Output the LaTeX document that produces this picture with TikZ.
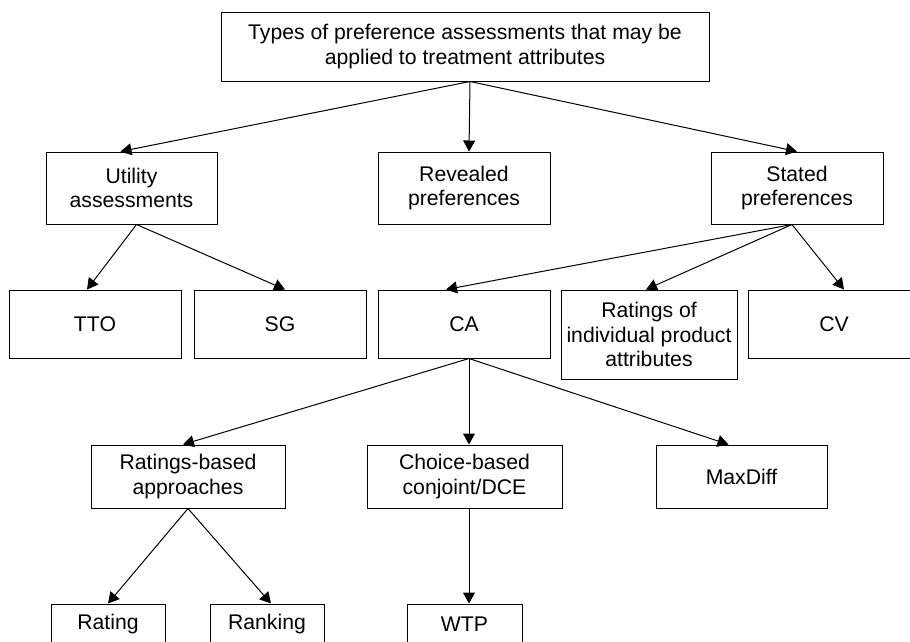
\documentclass[tikz,border=0pt]{standalone}
\usepackage{fontspec}
\setmainfont{Liberation Sans}
\usetikzlibrary{arrows.meta, positioning}

\begin{document}
\begin{tikzpicture}[
    x=1pt, y=-1pt,
    pbox/.style={rectangle, draw=black, line width=1pt, fill=white, minimum height=68pt, align=center, inner sep=2pt, font=\fontsize{21.2}{24.4}\selectfont, text=black},
    arr/.style={-{Triangle[length=11pt, width=12pt]}, line width=1pt, black}
  ]
  \useasboundingbox (0,0) rectangle (910,641);
  \clip (0,0) rectangle (910,641);

  % top level
  \node[pbox, minimum width=488pt, minimum height=69pt] (types) at (465,46.5) {Types of preference assessments that may be\\ applied to treatment attributes};

  % second level
  \node[pbox, minimum width=171pt, minimum height=72pt] (util) at (131.5,188) {Utility\\ assessments};
  \node[pbox, minimum width=172pt, minimum height=72pt] (revealed) at (464,188) {Revealed\\ preferences};
  \node[pbox, minimum width=172pt, minimum height=72pt] (stated) at (797,188) {Stated\\ preferences};

  % third level
  \node[pbox, minimum width=172pt] (tto) at (95,324) {TTO};
  \node[pbox, minimum width=172pt] (sg) at (280,324) {SG};
  \node[pbox, minimum width=172pt] (ca) at (464,324) {CA};
  \node[pbox, minimum width=176pt, minimum height=89pt] (ratattr) at (649,334.5) {Ratings of\\ individual product\\ attributes};
  \node[pbox, minimum width=172pt] (cv) at (834,324) {CV};

  % fourth level
  \node[pbox, minimum width=194pt, minimum height=63pt] (ratbased) at (188,476.5) {Ratings-based\\ approaches};
  \node[pbox, minimum width=195pt, minimum height=63pt] (choice) at (464.5,476.5) {Choice-based\\ conjoint/DCE};
  \node[pbox, minimum width=171pt, minimum height=63pt] (maxdiff) at (741.5,476.5) {MaxDiff};

  % bottom level
  \node[pbox, minimum width=114pt, minimum height=40pt] (rating) at (108,624) {Rating};
  \node[pbox, minimum width=114pt, minimum height=40pt, right=44pt of rating] (ranking) {Ranking};
  \node[pbox, minimum width=115pt, minimum height=40pt] (wtp) at (464.5,624) {WTP};

  \draw[arr] ([xshift=5pt]types.south) -- ([xshift=-11pt]util.north);
  \draw[arr] ([xshift=5pt]types.south) -- ([xshift=5pt]revealed.north);
  \draw[arr] ([xshift=5pt]types.south) -- (stated.north);

  \draw[arr] ([xshift=5pt]util.south) -- ([xshift=-8pt]tto.north);
  \draw[arr] ([xshift=5pt]util.south) -- ([xshift=5pt]sg.north);

  \draw[arr] ([xshift=-5pt]stated.south) -- ([xshift=-18pt]ca.north);
  \draw[arr] ([xshift=-5pt]stated.south) -- ([xshift=-3pt]ratattr.north);
  \draw[arr] ([xshift=-5pt]stated.south) -- ([xshift=10pt]cv.north);

  \draw[arr] ([xshift=5pt]ca.south) -- ([xshift=-5pt]ratbased.north);
  \draw[arr] ([xshift=5pt]ca.south) -- ([xshift=4.5pt]choice.north);
  \draw[arr] ([xshift=5pt]ca.south) -- ([xshift=-13pt]maxdiff.north);

  \draw[arr] (ratbased.south) -- (rating.north);
  \draw[arr] (ratbased.south) -- ([xshift=4pt]ranking.north);
  \draw[arr] ([xshift=4.5pt]choice.south) -- ([xshift=4.5pt]wtp.north);
\end{tikzpicture}
\end{document}
